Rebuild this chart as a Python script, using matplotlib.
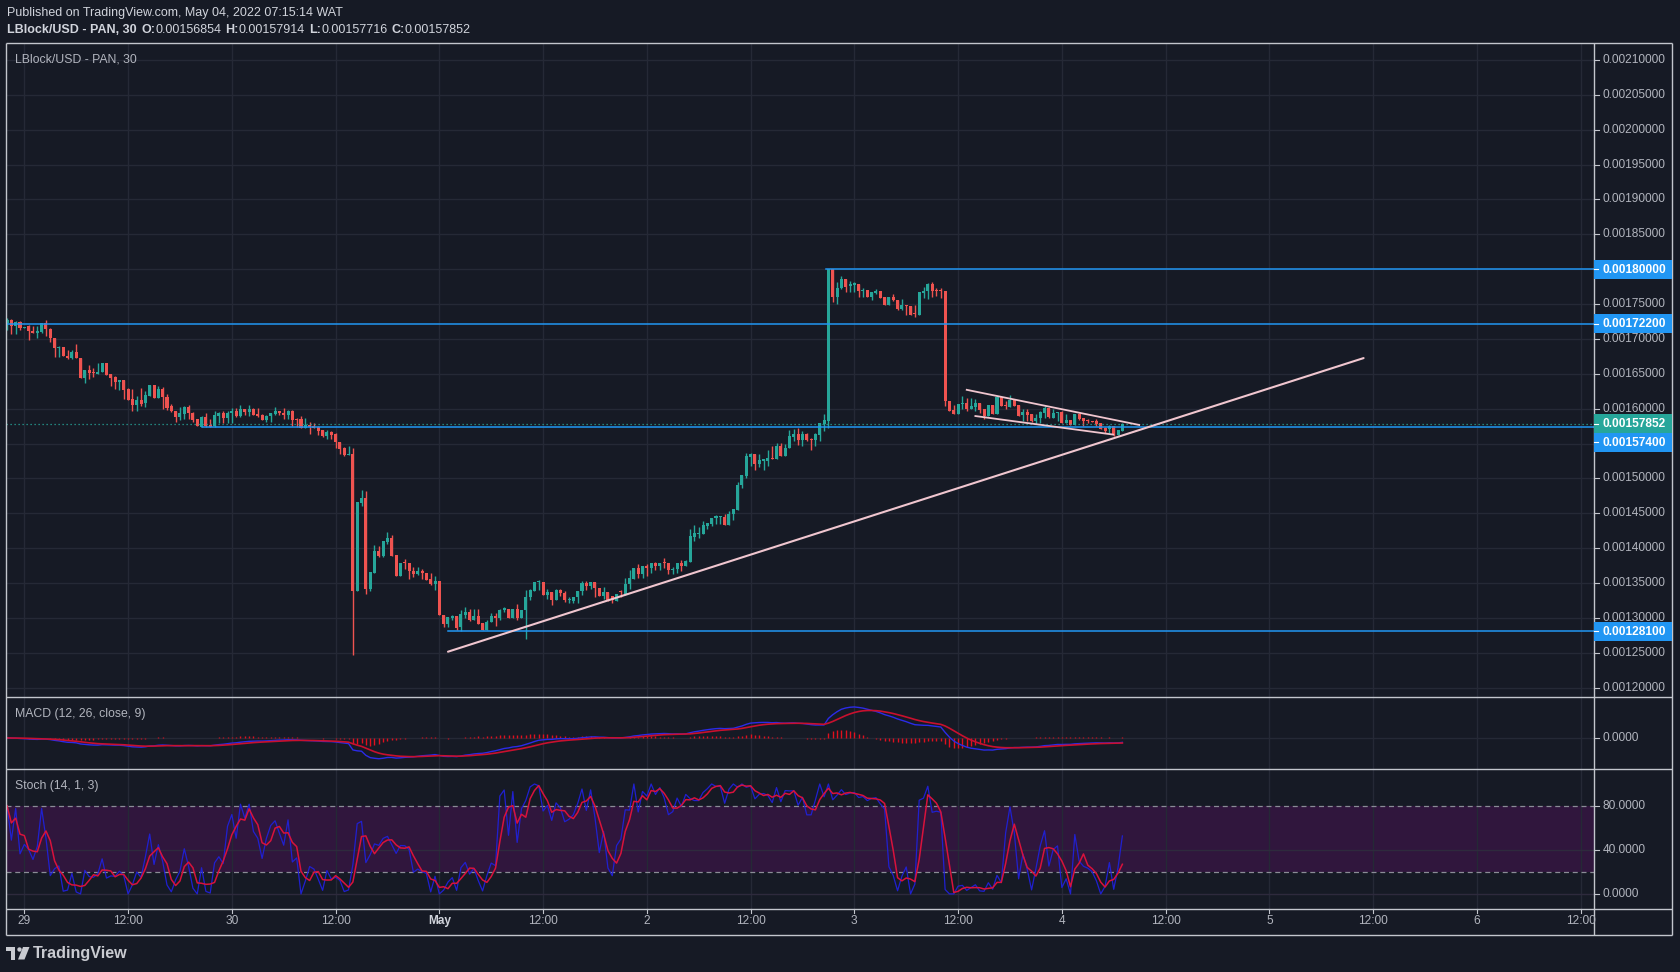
import numpy as np
import pandas as pd
import matplotlib
matplotlib.use('Agg')
import matplotlib.pyplot as plt
from matplotlib.patches import Rectangle, Polygon, Circle

plt.rcParams['font.family'] = ['Liberation Sans', 'DejaVu Sans']

# ---------------- data (prices in units of 1e-5 USD, 30-min candles from Apr 28 22:00) -------------
open_e5 = [
    172.29, 172.67, 171.81, 172.48, 171.52, 171.81, 171.19, 170.81, 171.05, 172.29,
    171.43, 170.19, 168.67, 168.81, 167.62, 167.34, 168.19, 167.29, 164.38, 165.62,
    165.24, 164.95, 165.24, 166.57, 164.91, 164.48, 163.81, 164.05, 162.76, 161.34,
    160.48, 161.19, 160.76, 161.81, 163.43, 161.52, 162.76, 161.71, 160.38, 159.71,
    158.86, 159.24, 160.29, 159.43, 158.48, 157.43, 158.86, 157.72, 157.52, 158.95,
    159.33, 158.67, 159.43, 159.62, 158.95, 159.91, 159.52, 159.91, 159.19, 159.05,
    158.38, 158.95, 159.24, 159.62, 159.43, 159.05, 159.67, 158.48, 158.48, 157.24,
    157.62, 157.52, 157.38, 156.91, 156.05, 156.67, 156.33, 155.29, 154.38, 153.38,
    153.48, 133.81, 146.52, 147.14, 134.19, 136.48, 139.62, 138.95, 140.86, 141.48,
    139.05, 135.95, 137.86, 137.86, 136.76, 136.33, 136.76, 136.48, 135.62, 134.90,
    135.29, 130.38, 129.19, 129.95, 130.24, 128.67, 130.48, 130.90, 129.76, 130.24,
    129.29, 128.33, 129.38, 130.33, 129.95, 131.09, 131.33, 129.95, 131.33, 129.95,
    131.09, 133.00, 133.81, 135.19, 135.19, 133.33, 133.76, 132.62, 133.95, 133.57,
    132.52, 132.48, 133.00, 133.81, 135.00, 134.52, 135.19, 134.33, 133.10, 133.71,
    133.10, 132.38, 133.71, 133.48, 134.81, 135.62, 137.19, 136.33, 137.38, 137.14,
    137.90, 137.52, 137.90, 137.90, 136.81, 136.95, 137.90, 137.52, 138.09, 141.67,
    142.09, 142.09, 143.24, 143.48, 144.29, 144.48, 144.48, 143.38, 144.86, 145.52,
    149.05, 150.29, 153.14, 153.48, 152.05, 152.52, 152.57, 152.90, 152.76, 154.67,
    153.24, 154.43, 156.00, 156.33, 155.52, 156.33, 155.62, 155.52, 156.19, 157.86,
    158.24, 180.00, 176.09, 177.29, 178.62, 177.62, 177.76, 177.90, 176.81, 177.05,
    176.09, 176.57, 176.86, 176.00, 174.81, 176.09, 175.62, 174.33, 174.90, 174.76,
    173.62, 173.48, 176.57, 176.81, 177.90, 176.90, 176.95, 176.95, 161.10, 159.76,
    159.29, 160.62, 160.76, 159.90, 160.29, 160.86, 159.90, 158.95, 160.48, 159.19,
    161.67, 160.43, 160.24, 161.33, 160.48, 159.05, 159.57, 159.19, 158.24, 158.71,
    159.43, 160.05, 158.71, 159.43, 159.57, 158.00, 158.33, 157.67, 159.19, 158.62,
    158.29, 158.29, 158.24, 157.90, 157.19, 157.05, 157.52, 156.24, 156.854,
]
high_e5 = [
    173.00, 172.86, 172.62, 172.62, 171.72, 172.05, 171.81, 171.81, 172.29, 172.76,
    171.57, 170.19, 168.95, 168.81, 168.48, 168.48, 169.33, 167.29, 165.62, 166.34,
    165.86, 166.57, 166.57, 166.57, 164.91, 164.67, 164.05, 164.05, 163.00, 162.76,
    161.81, 162.91, 162.57, 163.43, 163.43, 163.29, 163.14, 162.05, 160.71, 159.71,
    160.24, 160.38, 160.48, 159.57, 158.48, 159.00, 159.43, 158.48, 159.67, 159.57,
    159.71, 159.62, 160.05, 160.05, 160.48, 159.91, 160.48, 160.05, 160.05, 159.19,
    159.05, 159.33, 160.19, 159.62, 160.05, 159.76, 159.76, 158.71, 158.91, 158.71,
    158.10, 158.00, 157.52, 156.91, 157.00, 156.76, 156.57, 155.29, 154.48, 154.62,
    154.33, 146.57, 148.33, 148.19, 136.57, 140.48, 140.33, 141.10, 142.29, 141.91,
    139.05, 137.86, 138.43, 137.86, 137.29, 137.33, 137.05, 136.48, 136.38, 136.05,
    135.29, 130.48, 130.14, 130.48, 130.24, 131.19, 131.57, 131.33, 131.33, 131.33,
    129.29, 129.67, 130.71, 130.67, 131.33, 131.57, 131.33, 131.33, 132.05, 131.19,
    134.05, 134.14, 135.19, 135.38, 135.19, 134.19, 133.76, 134.14, 134.14, 133.90,
    133.00, 133.05, 133.90, 135.24, 135.24, 135.19, 135.19, 134.33, 134.43, 133.71,
    133.19, 133.48, 133.95, 135.76, 136.90, 137.19, 137.76, 137.38, 137.76, 137.90,
    138.09, 137.90, 138.62, 137.90, 137.29, 137.90, 138.24, 138.33, 142.76, 143.33,
    143.00, 143.95, 143.62, 144.29, 144.76, 144.67, 144.90, 145.29, 145.62, 149.43,
    150.47, 153.71, 153.71, 153.48, 153.48, 152.76, 154.09, 154.67, 155.05, 155.14,
    154.90, 156.90, 157.05, 157.19, 156.81, 156.57, 155.86, 156.57, 157.90, 159.19,
    180.00, 180.00, 178.24, 179.05, 178.62, 178.33, 178.10, 177.90, 177.29, 177.05,
    176.67, 177.19, 176.86, 176.00, 176.09, 176.38, 175.62, 175.76, 174.90, 174.76,
    174.90, 176.67, 177.52, 178.00, 178.10, 177.29, 177.29, 176.95, 161.10, 160.48,
    160.62, 161.81, 161.48, 161.57, 161.33, 160.86, 159.90, 160.48, 160.48, 161.81,
    161.67, 161.10, 161.90, 161.33, 160.48, 160.00, 160.00, 159.29, 159.19, 159.67,
    160.38, 160.05, 159.90, 159.57, 159.67, 159.19, 158.33, 159.19, 159.43, 158.62,
    158.48, 158.29, 158.57, 157.90, 157.38, 157.62, 157.52, 156.95, 157.914,
]
low_e5 = [
    171.33, 170.67, 170.76, 171.24, 171.52, 169.81, 170.81, 170.10, 170.86, 170.48,
    169.52, 167.38, 167.38, 167.52, 167.14, 167.14, 167.24, 164.38, 163.67, 164.19,
    164.52, 164.95, 165.24, 164.81, 163.24, 162.76, 162.67, 161.34, 161.24, 159.67,
    159.67, 160.38, 160.29, 161.81, 161.52, 161.52, 159.91, 159.81, 159.52, 158.10,
    158.38, 158.48, 158.48, 158.10, 157.52, 157.43, 157.38, 157.38, 157.43, 158.00,
    157.91, 157.91, 158.00, 158.86, 158.86, 159.10, 158.95, 159.05, 158.86, 158.38,
    158.10, 158.10, 159.14, 159.05, 158.57, 158.57, 157.52, 157.43, 157.24, 157.24,
    156.38, 157.19, 156.29, 155.91, 155.72, 155.62, 154.38, 153.48, 153.24, 153.38,
    124.67, 133.81, 146.10, 133.38, 133.91, 136.48, 138.71, 138.81, 140.62, 138.95,
    135.95, 135.95, 137.05, 135.62, 135.81, 136.10, 135.62, 135.48, 134.76, 133.95,
    130.38, 128.71, 128.71, 129.76, 128.24, 128.10, 130.00, 129.62, 129.76, 129.19,
    128.24, 128.24, 129.38, 128.90, 129.76, 130.86, 129.95, 129.95, 129.76, 129.95,
    127.05, 132.52, 133.81, 133.95, 133.33, 132.76, 131.81, 132.52, 133.10, 132.33,
    132.10, 132.10, 132.10, 133.24, 133.95, 134.14, 133.05, 133.10, 132.71, 132.38,
    132.14, 132.38, 133.00, 133.24, 134.09, 135.62, 135.76, 135.76, 135.95, 136.43,
    136.81, 136.81, 137.14, 136.24, 136.24, 136.48, 136.67, 137.52, 138.09, 141.09,
    141.43, 142.09, 142.76, 143.24, 143.48, 143.48, 143.38, 143.38, 144.05, 145.52,
    148.57, 150.05, 151.81, 151.24, 151.67, 151.24, 151.81, 152.76, 152.76, 153.24,
    153.24, 154.43, 155.38, 154.81, 154.67, 155.38, 154.09, 154.67, 155.38, 156.81,
    157.19, 175.24, 175.05, 177.19, 176.67, 176.67, 176.67, 176.09, 176.00, 176.09,
    175.52, 176.43, 175.81, 174.81, 174.81, 175.38, 174.19, 174.19, 173.48, 173.48,
    173.09, 173.48, 175.86, 175.76, 176.09, 176.19, 175.86, 160.38, 159.67, 159.29,
    159.29, 159.90, 159.67, 159.90, 159.67, 159.43, 158.48, 158.95, 159.29, 159.19,
    160.38, 160.00, 160.24, 160.38, 158.95, 158.24, 158.24, 158.10, 157.76, 158.00,
    158.71, 158.71, 158.71, 158.24, 158.00, 157.90, 157.67, 157.67, 158.38, 157.52,
    158.00, 158.10, 157.52, 157.05, 156.57, 156.57, 156.09, 156.24, 156.80,
]
close_e5 = [
    172.67, 171.81, 172.48, 171.52, 171.72, 171.10, 170.81, 171.19, 172.29, 171.43,
    170.10, 168.67, 168.81, 167.52, 167.34, 168.19, 167.24, 164.38, 165.62, 165.10,
    165.05, 165.33, 166.57, 164.81, 164.38, 163.81, 164.05, 162.67, 161.24, 160.48,
    161.19, 160.71, 162.00, 163.43, 161.52, 162.76, 161.71, 160.10, 159.62, 158.86,
    159.33, 160.29, 159.43, 158.38, 157.52, 158.86, 157.52, 157.43, 159.05, 159.33,
    158.67, 159.43, 159.62, 158.95, 159.91, 159.52, 159.91, 159.14, 158.95, 158.38,
    158.95, 159.33, 159.62, 159.33, 159.05, 159.67, 158.38, 158.43, 157.24, 157.62,
    157.33, 157.24, 156.81, 156.05, 156.67, 156.24, 155.24, 154.29, 153.38, 153.48,
    133.81, 146.57, 147.14, 134.19, 136.57, 139.62, 138.95, 141.00, 141.48, 138.95,
    135.95, 137.86, 137.81, 136.67, 136.33, 136.76, 136.38, 135.48, 134.90, 135.29,
    130.38, 129.19, 130.14, 130.24, 128.57, 130.57, 130.90, 129.76, 130.24, 129.19,
    128.33, 129.48, 130.33, 129.95, 131.19, 131.38, 129.95, 131.33, 129.95, 131.19,
    133.00, 133.95, 135.19, 135.24, 133.33, 133.76, 132.62, 133.95, 133.57, 132.52,
    132.71, 133.05, 133.90, 135.00, 134.52, 135.19, 134.29, 133.10, 133.76, 132.62,
    132.62, 133.48, 133.67, 134.90, 135.76, 137.19, 136.33, 137.38, 137.14, 137.90,
    137.52, 137.90, 137.81, 136.81, 137.05, 137.90, 137.52, 138.19, 141.81, 142.19,
    142.19, 143.33, 143.62, 144.29, 144.57, 144.57, 143.38, 144.86, 145.62, 149.05,
    150.47, 153.24, 153.48, 152.05, 152.62, 152.76, 152.95, 152.76, 154.67, 153.24,
    154.43, 156.09, 156.33, 155.52, 156.33, 155.52, 155.52, 156.33, 157.90, 158.33,
    180.00, 176.09, 177.29, 178.62, 177.52, 177.86, 178.00, 176.81, 177.05, 176.09,
    176.67, 176.95, 175.81, 174.81, 176.09, 175.52, 174.33, 174.90, 174.67, 173.48,
    173.52, 176.67, 176.95, 177.90, 176.81, 176.86, 176.81, 161.10, 159.67, 159.29,
    160.62, 160.76, 159.90, 160.38, 160.86, 159.81, 158.95, 160.48, 159.29, 161.67,
    160.38, 160.33, 161.19, 160.38, 158.95, 159.57, 159.05, 158.24, 158.71, 159.57,
    160.14, 158.81, 159.43, 159.57, 158.00, 158.33, 157.67, 159.19, 158.48, 158.24,
    158.19, 158.10, 157.86, 157.05, 156.81, 157.52, 156.24, 156.95, 157.852,
]

# horizontal levels (price, start candle index)
level_prices = [0.00180000, 0.00172200, 0.00157400, 0.00128100]
level_starts = [189.5, -1.0, 45.0, 102.0]
last_price = 0.00157852

# drawn trend lines: (candle index, price)
trend_x = [102.0, 313.8]
trend_y = [0.0012516, 0.0016726]
wedge_up_x = [222.0, 261.9]
wedge_up_y = [0.0016271, 0.0015767]
wedge_lo_x = [224.0, 255.9]
wedge_lo_y = [0.0015895, 0.0015629]

# time axis labels at candle indices
tick_idx = [4, 28, 52, 76, 100, 124, 148, 172, 196, 220, 244, 268, 292, 316, 340, 364]
tick_lbl = ['29', '12:00', '30', '12:00', 'May', '12:00', '2', '12:00',
            '3', '12:00', '4', '12:00', '5', '12:00', '6', '12:00']

# ---------------- style -----------------
W, H = 1681, 972
BG = '#161a25'
GRID = '#252936'
BORDER = '#c3c6cd'
TXT = '#b2b5be'
UP = '#26a69a'
DN = '#ef5350'
LVL = '#2196f3'
TREND = '#f0c6cf'

o = np.array(open_e5) * 1e-5
hi = np.array(high_e5) * 1e-5
lo = np.array(low_e5) * 1e-5
c = np.array(close_e5) * 1e-5
n = len(c)
idx = np.arange(n)

fig = plt.figure(figsize=(W / 100, H / 100), dpi=100, facecolor=BG)


def pix_axes(x0, y0, x1, y1):
    a = fig.add_axes([x0 / W, 1 - y1 / H, (x1 - x0) / W, (y1 - y0) / H])
    a.set_facecolor(BG)
    for s in a.spines.values():
        s.set_visible(False)
    a.set_xticks([])
    a.set_yticks([])
    return a


XL, XR = 6.4, 1594.0
YT, Y1, Y2, Y3, YB = 42.9, 697.0, 768.7, 909.0, 935.0
ax = pix_axes(XL, YT, XR, Y1)
axm = pix_axes(XL, Y1, XR, Y2)
axs = pix_axes(XL, Y2, XR, Y3)

xlim = (-0.148, 367.10)
for a in (ax, axm, axs):
    a.set_xlim(*xlim)
    for t in tick_idx:
        a.axvline(t, color=GRID, lw=1.0, zorder=1)

# ---------------- main price panel -----------------
ax.set_ylim(0.00118666, 0.00212452)
price_ticks = np.round(np.arange(0.0012, 0.00210001, 0.00005), 8)
for p in price_ticks:
    ax.axhline(p, color=GRID, lw=1.0, zorder=1)

cols = np.where(c >= o, UP, DN)
ax.vlines(idx, lo, hi, colors=cols, lw=1.0, zorder=3)
minh = 0.00005 / 34.87
body_b = np.minimum(o, c)
body_h = np.maximum(np.abs(c - o), minh)
ax.bar(idx, body_h, bottom=body_b, width=0.7, color=cols, linewidth=0, zorder=4)

for p, s in zip(level_prices, level_starts):
    ax.plot([s, xlim[1]], [p, p], color=LVL, lw=1.1, zorder=5)
ax.axhline(last_price, color=UP, lw=0.9, ls=(0, (1, 2.2)), zorder=5)

ax.plot(trend_x, trend_y, color=TREND, lw=1.5, zorder=6, solid_capstyle='round')
ax.plot(wedge_up_x, wedge_up_y, color=TREND, lw=1.3, zorder=6)
ax.plot(wedge_lo_x, wedge_lo_y, color=TREND, lw=1.3, zorder=6)

# ---------------- MACD -----------------
cs = pd.Series(c)
macd = cs.ewm(span=12, adjust=False).mean() - cs.ewm(span=26, adjust=False).mean()
sig = macd.ewm(span=9, adjust=False).mean()
hist = (macd - sig).values
macd = macd.values
sig = sig.values
mn = min(macd.min(), sig.min(), hist.min())
mx = max(macd.max(), sig.max(), hist.max())
pad = (mx - mn) * 10 / 52
axm.set_ylim(mn - pad, mx + pad)
axm.axhline(0, color=GRID, lw=1.0, zorder=1)
axm.vlines(idx, 0, hist, colors='#e0101e', lw=1.0, zorder=3)
axm.plot(idx, macd, color='#2b2be8', lw=1.0, zorder=4)
axm.plot(idx, sig, color='#c8102e', lw=1.2, zorder=5)

# ---------------- Stochastic (14,1,3) -----------------
hs = pd.Series(hi).rolling(14, min_periods=1).max()
ls_ = pd.Series(lo).rolling(14, min_periods=1).min()
k = 100 * (cs - ls_) / (hs - ls_)
d = k.rolling(3, min_periods=1).mean()
axs.set_ylim(-13.7, 113.9)
axs.axhspan(20, 80, color='#30163d', zorder=0, lw=0)
for v in (0, 40):
    axs.axhline(v, color='#2e2a3d', lw=1.0, zorder=1)
for v in (80, 20):
    axs.axhline(v, color='#8a8c96', lw=0.9, ls=(0, (4, 3)), zorder=2)
axs.plot(idx, k.values, color='#2020d0', lw=0.9, zorder=4)
axs.plot(idx, d.values, color='#d8123c', lw=1.1, zorder=5)

# ---------------- overlay in pixel coordinates -----------------
ov = fig.add_axes([0, 0, 1, 1])
ov.set_xlim(0, W)
ov.set_ylim(H, 0)
ov.axis('off')
ov.patch.set_alpha(0)


def ypix(a, v):
    return H - a.transData.transform((0, v))[1]


def xpix(a, v):
    return a.transData.transform((v, 0))[0]


XRR = 1672.5
lk = dict(color=BORDER, lw=1.0, solid_capstyle='butt')
ov.plot([XL, XRR], [YT, YT], **lk)
ov.plot([XL, XRR], [YB, YB], **lk)
ov.plot([XL, XL], [YT, YB], **lk)
ov.plot([XRR, XRR], [YT, YB], **lk)
ov.plot([XR, XR], [YT, YB], **lk)
for yy in (Y1, Y2, Y3):
    ov.plot([XL, XRR], [yy, yy], **lk)

AFS = 8.6
# price label boxes with collision shift
boxes = [(last_price, UP)] + [(p, LVL) for p in level_prices]
bpos = sorted([(ypix(ax, p), p, col) for p, col in boxes])
BH = 18.7
placed = []
for y, p, col in bpos:
    if placed and y - placed[-1][0] < BH:
        y = placed[-1][0] + BH
    placed.append((y, p, col))
for y, p, col in placed:
    ov.add_patch(Rectangle((XR, y - BH / 2), XRR - XR - 0.5, BH, facecolor=col, edgecolor='none', zorder=5))
    ov.plot([XR, XR + 4], [y, y], color='white', lw=0.8, zorder=6)
    ov.text(XR + 40, y + 0.5, f'{p:.8f}', color='white', fontsize=AFS, fontweight='bold',
            ha='center', va='center', zorder=6)

box_ys = [y for y, _, _ in placed]
for p in price_ticks:
    y = ypix(ax, p)
    if min(abs(y - by) for by in box_ys) < 12:
        continue
    ov.plot([XR, XR + 5], [y, y], color=BORDER, lw=0.8)
    ov.text(XR + 9, y, f'{p:.8f}', color=TXT, fontsize=AFS, ha='left', va='center')

ym = ypix(axm, 0)
ov.plot([XR, XR + 5], [ym, ym], color=BORDER, lw=0.8)
ov.text(XR + 9, ym, '0.0000', color=TXT, fontsize=AFS, ha='left', va='center')
for v in (80, 40, 0):
    y = ypix(axs, v)
    ov.plot([XR, XR + 5], [y, y], color=BORDER, lw=0.8)
    ov.text(XR + 9, y, f'{v:.4f}', color=TXT, fontsize=AFS, ha='left', va='center')

for t, lab in zip(tick_idx, tick_lbl):
    x = xpix(axs, t)
    ov.plot([x, x], [Y3, Y3 + 4], color=BORDER, lw=0.8)
    ov.text(x, 921, lab, color=TXT if lab != 'May' else '#d1d4dc', fontsize=8.6,
            fontweight='bold' if lab == 'May' else 'normal', ha='center', va='center')

# panel titles
ov.text(15, 60, 'LBlock/USD - PAN, 30', color=TXT, fontsize=8.8, va='center')
ov.text(15, 714, 'MACD (12, 26, close, 9)', color=TXT, fontsize=8.8, va='center')
ov.text(15, 786, 'Stoch (14, 1, 3)', color=TXT, fontsize=8.8, va='center')

# header
HC = '#d1d4dc'
ov.text(7, 13, 'Published on TradingView.com, May 04, 2022 07:15:14 WAT', color=HC,
        fontsize=9.0, va='center')
renderer = fig.canvas.get_renderer()
runs = [('LBlock/USD - PAN, 30', True, 5), ('O:', True, 0), ('0.00156854', False, 4),
        ('H:', True, 0), ('0.00157914', False, 4), ('L:', True, 0), ('0.00157716', False, 4),
        ('C:', True, 0), ('0.00157852', False, 0)]
xx = 7
for s, b, gap in runs:
    t = ov.text(xx, 30, s, color=HC, fontsize=9.0, fontweight='bold' if b else 'normal', va='center')
    bb = t.get_window_extent(renderer=renderer)
    xx += bb.width + gap

# TradingView logo
LC = '#c9cbd1'
ov.add_patch(Rectangle((6.5, 947), 9, 4, facecolor=LC, edgecolor='none'))
ov.add_patch(Rectangle((11.5, 947), 4, 12.5, facecolor=LC, edgecolor='none'))
ov.add_patch(Circle((19.5, 949.5), 2.2, facecolor=LC, edgecolor='none'))
ov.add_patch(Polygon([[23, 947], [29.5, 947], [24.5, 959.5], [18, 959.5]], closed=True,
                     facecolor=LC, edgecolor='none'))
ov.text(33, 953.5, 'TradingView', color=LC, fontsize=11.6, fontweight='bold', va='center')

fig.savefig('out.png', dpi=100, facecolor=BG)
